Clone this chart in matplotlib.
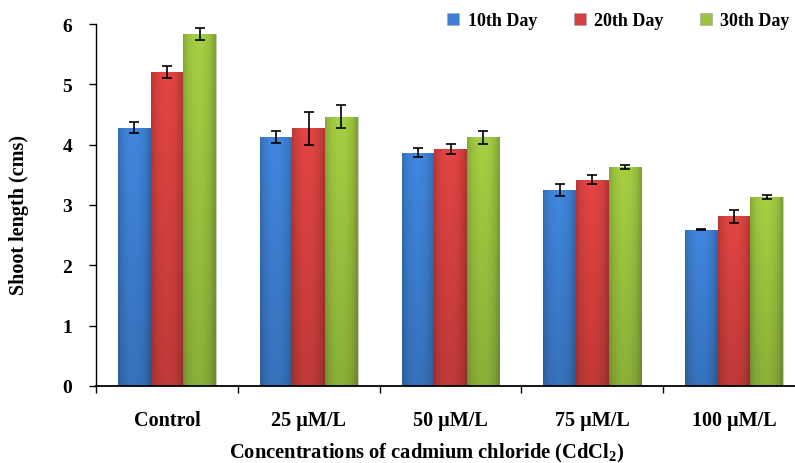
import numpy as np
import matplotlib
matplotlib.use("Agg")
import matplotlib.pyplot as plt
from matplotlib.lines import Line2D

plt.rcParams['font.family'] = ['Liberation Serif', 'DejaVu Serif']
plt.rcParams['font.weight'] = 'bold'
plt.rcParams['mathtext.fontset'] = 'custom'
plt.rcParams['mathtext.rm'] = 'Liberation Serif:bold'
plt.rcParams['mathtext.bf'] = 'Liberation Serif:bold'
plt.rcParams['mathtext.it'] = 'Liberation Serif:bold'

categories = ["Control", "25 \u00b5M/L", "50 \u00b5M/L", "75 \u00b5M/L", "100 \u00b5M/L"]
series = ["10th Day", "20th Day", "30th Day"]
day10 = [4.28, 4.13, 3.87, 3.25, 2.59]
day20 = [5.20, 4.27, 3.93, 3.42, 2.81]
day30 = [5.84, 4.46, 4.12, 3.63, 3.13]
err10 = [0.09, 0.10, 0.07, 0.10, 0.01]
err20 = [0.10, 0.27, 0.08, 0.07, 0.11]
err30 = [0.10, 0.19, 0.11, 0.04, 0.03]
yticks = [0, 1, 2, 3, 4, 5, 6]

values = [day10, day20, day30]
errors = [err10, err20, err30]
base_colors = ["#3d7fd2", "#d6413f", "#9cc43f"]

W, H = 795, 464
fig = plt.figure(figsize=(W / 100, H / 100), dpi=100)
ax = fig.add_axes([96 / W, 77 / H, (805 - 96) / W, 362 / H])

x = np.arange(len(categories))
bw = 0.23
offsets = [-bw, 0, bw]


def shade(hexcol):
    c = np.array(matplotlib.colors.to_rgb(hexcol))
    nx, ny = 40, 60
    u = np.linspace(0, 1, nx)
    hfac = 0.82 + 0.22 * np.sin(np.pi * np.clip(u * 1.05, 0, 1)) ** 0.6
    v = np.linspace(0, 1, ny)  # 0 bottom, 1 top
    vfac = 0.86 + 0.16 * v
    fac = vfac[:, None] * hfac[None, :]
    img = np.clip(c[None, None, :] * fac[:, :, None], 0, 1)
    return img[::-1]


for i, (vals, errs, col) in enumerate(zip(values, errors, base_colors)):
    bars = ax.bar(x + offsets[i], vals, width=bw, color=col, edgecolor='#c8c8c8',
                  linewidth=0.6, zorder=2, label=series[i])
    img = shade(col)
    for b in bars:
        bx, by = b.get_x(), b.get_y()
        im = ax.imshow(img, extent=[bx, bx + b.get_width(), by, by + b.get_height()],
                       aspect='auto', zorder=2.5, interpolation='bilinear')
        im.set_clip_path(b)
    ax.errorbar(x + offsets[i], vals, yerr=errs, fmt='none', ecolor='black',
                elinewidth=1.2, capsize=3.5, capthick=1.2, zorder=4)

ax.set_xlim(-0.5, len(categories) - 0.5)
ax.set_ylim(0, 6)
ax.set_yticks(yticks)
ax.set_yticklabels([str(t) for t in yticks], fontsize=14, fontweight='bold')
ax.set_xticks(x)
ax.set_xticklabels(categories, fontsize=14.5, fontweight='bold')
ax.set_xticks(np.arange(-0.5, len(categories), 1.0), minor=True)
ax.tick_params(axis='x', which='major', length=0, pad=17)
ax.tick_params(axis='x', which='minor', length=5, width=1, direction='out')
ax.tick_params(axis='y', length=5, width=1, direction='out', pad=12)
for s in ['top', 'right']:
    ax.spines[s].set_visible(False)
ax.spines['left'].set_linewidth(1.0)
ax.spines['bottom'].set_linewidth(1.3)

fig.text(19 / W, 1 - 215 / H, "Shoot length (cms)", rotation=90, ha='center',
         va='center', fontsize=14.5, fontweight='bold')
fig.text(427 / W, 1 - 453 / H, "Concentrations of cadmium chloride (CdCl$_\\mathregular{2}$)",
         ha='center', va='center', fontsize=14.8, fontweight='bold')

handles = [Line2D([], [], marker='s', linestyle='none', markersize=8.5,
                  markerfacecolor=c, markeredgecolor='#aaaaaa', markeredgewidth=0.5)
           for c in base_colors]
leg = fig.legend(handles, series, loc='center right', bbox_to_anchor=(797 / W, 1 - 22 / H),
                 ncol=3, frameon=False, prop={'family': 'Liberation Serif', 'weight': 'bold', 'size': 13},
                 handlelength=0.9, handletextpad=0.35, columnspacing=1.9, borderaxespad=0)

fig.savefig("out.png", dpi=100)
